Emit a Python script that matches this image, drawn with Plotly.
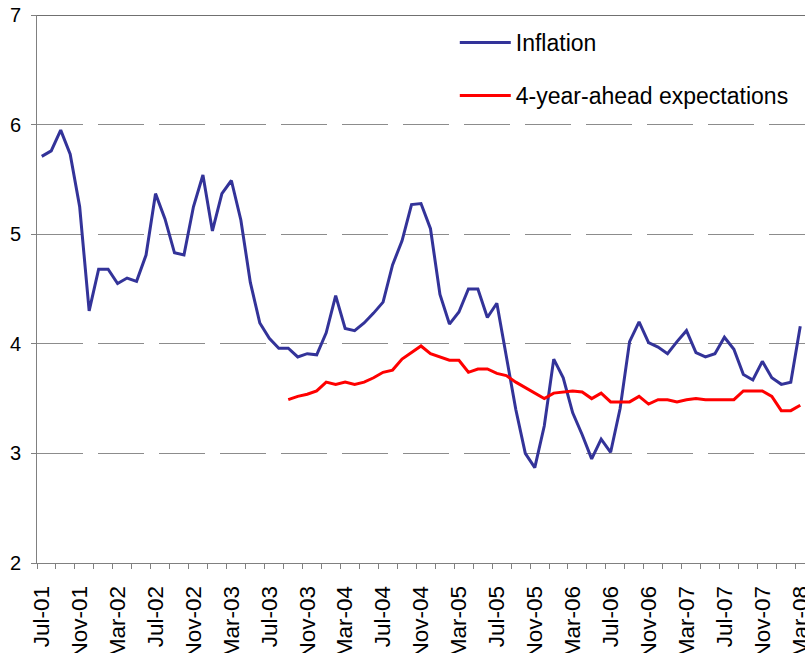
import plotly.graph_objects as go

months = ["Jan", "Feb", "Mar", "Apr", "May", "Jun", "Jul", "Aug", "Sep", "Oct", "Nov", "Dec"]
# monthly categories Jul-01 .. Mar-08
dates = []
for y in range(2001, 2009):
    for m in range(12):
        if (y == 2001 and m < 6) or (y == 2008 and m > 2):
            continue
        dates.append(f"{months[m]}-{str(y)[2:]}")

inflation = [
    5.71, 5.76, 5.95, 5.73, 5.25, 4.30, 4.68, 4.68, 4.55, 4.60,
    4.57, 4.81, 5.37, 5.14, 4.83, 4.81, 5.25, 5.54, 5.03, 5.37,
    5.49, 5.13, 4.56, 4.19, 4.05, 3.96, 3.96, 3.88, 3.91, 3.90,
    4.10, 4.44, 4.14, 4.12, 4.19, 4.28, 4.38, 4.72, 4.94, 5.27,
    5.28, 5.05, 4.45, 4.18, 4.29, 4.50, 4.50, 4.24, 4.37, 3.88,
    3.40, 3.00, 2.87, 3.25, 3.86, 3.69, 3.37, 3.17, 2.95, 3.13,
    3.01, 3.41, 4.02, 4.20, 4.01, 3.97, 3.91, 4.02, 4.12, 3.92,
    3.88, 3.91, 4.06, 3.95, 3.72, 3.67, 3.84, 3.69, 3.63, 3.65,
    4.16,
]

expect_start = "Sep-03"
expectations = [
    3.49, 3.52, 3.54, 3.57, 3.65, 3.63, 3.65, 3.63, 3.65, 3.69,
    3.74, 3.76, 3.86, 3.92, 3.98, 3.91, 3.88, 3.85, 3.85, 3.74,
    3.77, 3.77, 3.73, 3.71, 3.65, 3.60, 3.55, 3.50, 3.55, 3.56,
    3.57, 3.56, 3.50, 3.55, 3.47, 3.47, 3.47, 3.52, 3.45, 3.49,
    3.49, 3.47, 3.49, 3.50, 3.49, 3.49, 3.49, 3.49, 3.57, 3.57,
    3.57, 3.52, 3.39, 3.39, 3.44,
]

tick_labels = dates[::4]

x_all = list(range(len(dates)))
s0 = dates.index(expect_start)
x_exp = list(range(s0, s0 + len(expectations)))

FONT = "Liberation Sans, Arial, sans-serif"

fig = go.Figure()
fig.add_trace(go.Scatter(
    x=x_all, y=inflation, mode="lines", name="Inflation",
    line=dict(color="#333399", width=3), legendgroup="a",
))
fig.add_trace(go.Scatter(
    x=x_exp, y=expectations, mode="lines", name="4-year-ahead expectations",
    line=dict(color="#FF0000", width=3), legendgroup="b",
))

fig.update_layout(
    width=805, height=653,
    margin=dict(l=37, r=0, t=15, b=90, autoexpand=False),
    paper_bgcolor="white", plot_bgcolor="white",
    font=dict(family=FONT, color="black", size=20),
    showlegend=True,
    legend=dict(
        x=0.544, y=0.989, xanchor="left", yanchor="top",
        font=dict(size=23, family=FONT),
        bgcolor="rgba(0,0,0,0)",
        traceorder="grouped", tracegroupgap=20,
        itemwidth=51,
    ),
    xaxis=dict(
        range=[-0.5, len(dates) - 0.5],
        automargin=False,
        tickmode="array",
        tickvals=x_all[::4],
        ticktext=tick_labels,
        tickangle=-90,
        ticks="",
        showgrid=False,
        zeroline=False,
        showline=True, linecolor="#808080", linewidth=1,
        tickfont=dict(size=22.5, family=FONT, color="black"),
        ticklabelstandoff=13,
        ticklabeloverflow="allow",
        minor=dict(
            tickmode="array",
            tickvals=[v - 0.5 for v in x_all[::2]],
            ticks="outside", ticklen=5, tickcolor="#808080", tickwidth=1,
            showgrid=False,
        ),
    ),
    yaxis=dict(
        range=[2, 7],
        automargin=False,
        tickmode="linear", tick0=2, dtick=1,
        ticks="outside", ticklen=5, tickcolor="#808080",
        showline=True, linecolor="#808080", linewidth=1,
        showgrid=True, gridcolor="#8c8c8c", gridwidth=1, griddash="46px,15px",
        zeroline=False,
        tickfont=dict(size=20, family=FONT, color="black"),
        ticklabelstandoff=6,
        ticklabeloverflow="allow",
    ),
)

fig.add_shape(type="line", xref="paper", yref="y", x0=0, x1=1, y0=7, y1=7,
              line=dict(color="#404040", width=1.5), layer="above")

fig.write_html(
    "out.html",
    config={"displayModeBar": False},
    post_script="document.body.style.margin='0';document.body.style.overflow='hidden';",
)
